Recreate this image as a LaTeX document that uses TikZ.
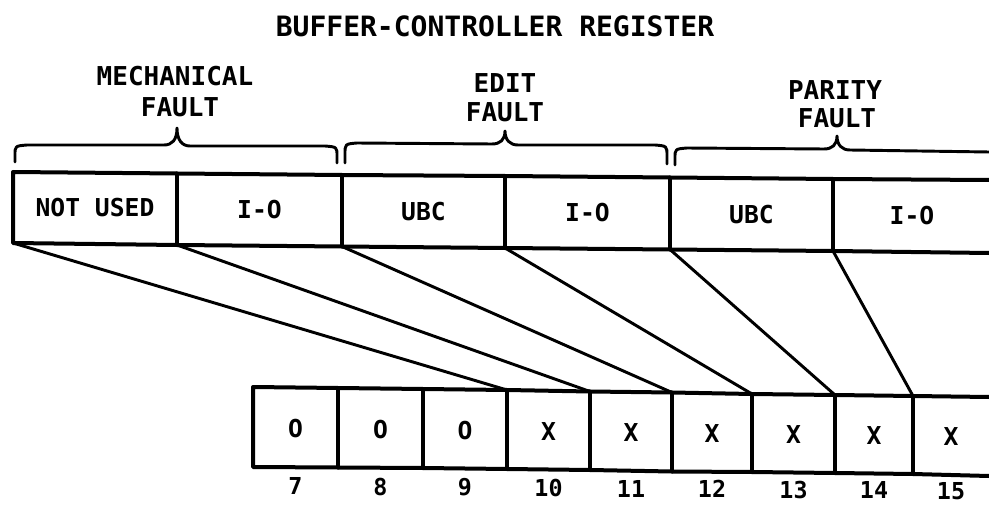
\documentclass[tikz,border=0pt]{standalone}
\usepackage{fontspec}
\newfontfamily\lett{DejaVu Sans Mono}
\begin{document}
\begin{tikzpicture}[x=0.75pt,y=-0.75pt,
  reg/.style={line width=3pt, line join=round, line cap=round},
  link/.style={line width=2.2pt, line cap=round},
  brace/.style={line width=2.2pt, line cap=round, line join=round},
  ttl/.style={font=\lett\bfseries\fontsize{21}{24}\selectfont, inner sep=0pt},
  grp/.style={font=\lett\bfseries\fontsize{19.5}{22}\selectfont, inner sep=0pt},
  cell/.style={font=\lett\bfseries\fontsize{18.5}{21}\selectfont, inner sep=0pt},
  num/.style={font=\lett\bfseries\fontsize{17.5}{20}\selectfont, inner sep=0pt}]
\useasboundingbox (0,0) rectangle (989,506);
\fill[white] (0,0) rectangle (989,506);

% title
\node[ttl] (title) at (495,26) {BUFFER-CONTROLLER REGISTER};

% group labels
\node[grp] (mech) at (175,76) {MECHANICAL};
\node[grp] (mechf) at (180,107) {FAULT};
\node[grp] (edit) at (505,83) {EDIT};
\node[grp] (editf) at (505,112) {FAULT};
\node[grp] (par) at (835,90) {PARITY};
\node[grp] (parf) at (837,118) {FAULT};

% braces
\coordinate (m1l) at (15,162); \coordinate (m1t) at (177,128); \coordinate (m1r) at (337,163);
\draw[brace] (m1l) -- (15,155) .. controls (15,146) .. (27,145) -- (164,145)
  .. controls (172,145) and (177,140) .. (m1t)
  .. controls (177,140) and (182,146) .. (190,146) -- (325,146)
  .. controls (337,147) .. (337,156) -- (m1r);
\coordinate (m2l) at (345,163); \coordinate (m2t) at (505,131); \coordinate (m2r) at (667,164);
\draw[brace] (m2l) -- (345,154) .. controls (345,144) .. (357,143) -- (492,144)
  .. controls (500,144) and (505,140) .. (m2t)
  .. controls (505,140) and (510,145) .. (518,145) -- (655,145)
  .. controls (667,146) .. (667,156) -- (m2r);
\coordinate (m3l) at (675,165); \coordinate (m3t) at (837,136); \coordinate (m3r) at (989,152);
\draw[brace] (m3l) -- (675,158) .. controls (675,149) .. (687,148) -- (824,149)
  .. controls (832,149) and (837,145) .. (m3t)
  .. controls (837,145) and (842,150) .. (850,150) -- (m3r);

% upper register corners
\coordinate (ta0) at (13,172);   \coordinate (tb0) at (13,243);
\coordinate (ta1) at (177,173.5);\coordinate (tb1) at (177,245);
\coordinate (ta2) at (342,175);  \coordinate (tb2) at (342,246.5);
\coordinate (ta3) at (505,176);  \coordinate (tb3) at (505,248);
\coordinate (ta4) at (670,177.5);\coordinate (tb4) at (670,249.5);
\coordinate (ta5) at (833,179);  \coordinate (tb5) at (833,251);
\coordinate (ta6) at (989,180);  \coordinate (tb6) at (989,253);
\draw[reg] (ta6) -- (ta5) -- (ta4) -- (ta3) -- (ta2) -- (ta1) -- (ta0) -- (tb0)
  -- (tb1) -- (tb2) -- (tb3) -- (tb4) -- (tb5) -- (tb6);
\foreach \i in {1,...,5} \draw[reg] (ta\i) -- (tb\i);

\node[cell] (nu)  at (95,208)    {NOT USED};
\node[cell] (io1) at (259.5,210) {I-O};
\node[cell] (ub1) at (423.5,211.5) {UBC};
\node[cell] (io2) at (587.5,213) {I-O};
\node[cell] (ub2) at (751.5,214.5) {UBC};
\node[cell] (io3) at (912,216)   {I-O};

% lower register corners
\coordinate (ba0) at (253,387);  \coordinate (bb0) at (253,467);
\coordinate (ba1) at (338,388);  \coordinate (bb1) at (338,467.5);
\coordinate (ba2) at (423,389);  \coordinate (bb2) at (423,468);
\coordinate (ba3) at (507,390);  \coordinate (bb3) at (507,469);
\coordinate (ba4) at (590,391.5);\coordinate (bb4) at (590,470);
\coordinate (ba5) at (672,392.5);\coordinate (bb5) at (672,471.5);
\coordinate (ba6) at (752,394);  \coordinate (bb6) at (752,472);
\coordinate (ba7) at (835,395);  \coordinate (bb7) at (835,473);
\coordinate (ba8) at (913,396);  \coordinate (bb8) at (913,474);
\coordinate (ba9) at (989,397);  \coordinate (bb9) at (989,476);
\draw[reg] (ba9) -- (ba8) -- (ba7) -- (ba6) -- (ba5) -- (ba4) -- (ba3) -- (ba2) -- (ba1) -- (ba0)
  -- (bb0) -- (bb1) -- (bb2) -- (bb3) -- (bb4) -- (bb5) -- (bb6) -- (bb7) -- (bb8) -- (bb9);
\foreach \i in {1,...,8} \draw[reg] (ba\i) -- (bb\i);

% bit values and numbers
\foreach \x/\y/\v/\n [count=\k] in {295.5/429/O/7, 380.5/430/O/8, 465/431/O/9, 548.5/432/X/10,
  631/433/X/11, 712/434/X/12, 793.5/435/X/13, 874/436/X/14, 951/437/X/15}{
  \node[cell] (v\n) at (\x,\y) {\v};
  \node[num] (n\n) at (\x,{486+(\x-295)*5/656}) {\n};
}

% connectors
\draw[link] (tb0) -- (ba3);
\draw[link] (tb1) -- (ba4);
\draw[link] (tb2) -- (ba5);
\draw[link] (tb3) -- (ba6);
\draw[link] (tb4) -- (ba7);
\draw[link] (tb5) -- (ba8);
\end{tikzpicture}
\end{document}
